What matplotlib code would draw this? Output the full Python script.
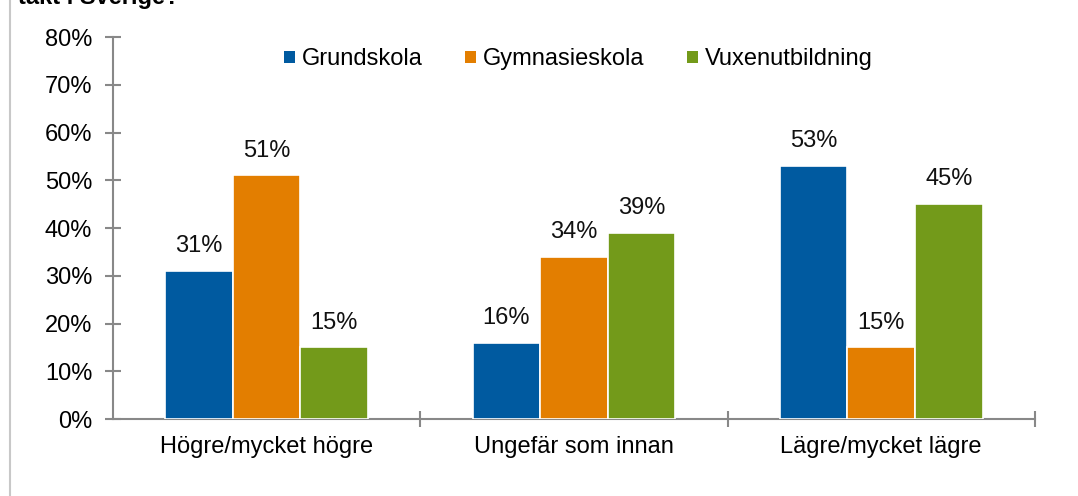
import matplotlib.pyplot as plt
import numpy as np
from matplotlib.lines import Line2D
from matplotlib.patches import Patch

plt.rcParams['font.family'] = ['Liberation Sans', 'DejaVu Sans']

# data
categories = ['Högre/mycket högre', 'Ungefär som innan', 'Lägre/mycket lägre']
series = ['Grundskola', 'Gymnasieskola', 'Vuxenutbildning']
grundskola = [31, 16, 53]
gymnasieskola = [51, 34, 15]
vuxenutbildning = [15, 39, 45]
colors = ['#005AA0', '#E37E00', '#739A1A']

fig = plt.figure(figsize=(10.78, 4.96), dpi=100)
ax = fig.add_axes([0.1048, 0.1552, 0.8552, 0.7702])

x = np.arange(len(categories))
w = 0.22
for i, (vals, c, name) in enumerate(zip([grundskola, gymnasieskola, vuxenutbildning], colors, series)):
    pos = x + (i - 1) * w
    ax.bar(pos, vals, width=w, color=c, edgecolor='white', linewidth=1.2, label=name, zorder=3)
    for p, v in zip(pos, vals):
        ax.annotate(f'{v}%', (p, v), xytext=(0, 10), textcoords='offset points',
                    ha='center', va='bottom', fontsize=17, color='#111111')

ax.set_xlim(-0.5, 2.5)
ax.set_ylim(0, 80)
ax.set_yticks(range(0, 81, 10))
ax.set_yticklabels([f'{t}%' for t in range(0, 81, 10)], fontsize=17)
ax.set_xticks(x)
ax.set_xticklabels(categories, fontsize=17)
ax.set_xticks([0.5, 1.5, 2.5], minor=True)
ax.tick_params(axis='x', which='major', length=0, pad=12)
ax.tick_params(axis='x', which='minor', direction='inout', length=11, color='#888888', width=1.5)
ax.tick_params(axis='y', direction='inout', length=11, color='#888888', width=1.5, pad=9.5)

for s in ['top', 'right']:
    ax.spines[s].set_visible(False)
for s in ['left', 'bottom']:
    ax.spines[s].set_color('#888888')
    ax.spines[s].set_linewidth(1.5)

handles = [Patch(facecolor=c, edgecolor='none') for c in colors]
ax.legend(handles, series, loc='upper center', bbox_to_anchor=(0.505, 1.026), ncol=3,
          frameon=False, fontsize=17, handlelength=0.45, handleheight=0.45,
          handletextpad=0.3, columnspacing=1.8)

# cut-off title and frame line
fig.text(18 / 1078, 1 - 4 / 496, 'takt i Sverige?', fontsize=17, fontweight='bold', va='baseline')
fig.add_artist(Line2D([9.5 / 1078, 9.5 / 1078], [0, 1], color='#c8c8c8', linewidth=1.5))

fig.savefig('out.png', dpi=100)
